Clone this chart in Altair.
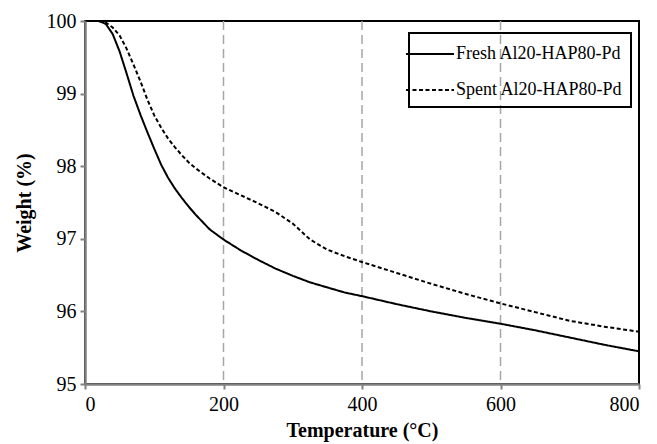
import altair as alt
import pandas as pd

temps = [20, 30, 40, 50, 60, 70, 80, 90, 100, 110, 120, 130, 140, 150, 160, 180,
         200, 225, 250, 275, 300, 325, 350, 375, 400, 450, 500, 550, 600, 650,
         700, 750, 800]
fresh = [100.0, 99.96, 99.82, 99.58, 99.28, 98.97, 98.71, 98.47, 98.24, 98.02,
         97.84, 97.69, 97.56, 97.44, 97.33, 97.13, 96.99, 96.84, 96.71, 96.59,
         96.49, 96.40, 96.33, 96.26, 96.21, 96.10, 96.00, 95.91, 95.83, 95.74,
         95.64, 95.54, 95.45]
spent = [100.0, 99.98, 99.91, 99.80, 99.62, 99.40, 99.17, 98.92, 98.70, 98.53,
         98.38, 98.26, 98.15, 98.05, 97.97, 97.83, 97.71, 97.60, 97.49, 97.37,
         97.21, 96.99, 96.85, 96.76, 96.68, 96.53, 96.38, 96.24, 96.11, 95.99,
         95.87, 95.79, 95.72]
series_names = ["Fresh Al20-HAP80-Pd", "Spent Al20-HAP80-Pd"]
grid_temps = [200, 400, 600]
x_ticks = [0, 200, 400, 600, 800]
y_ticks = [95, 96, 97, 98, 99, 100]

rows = []
for t, f, s in zip(temps, fresh, spent):
    rows.append({"T": t, "W": f, "series": series_names[0]})
    rows.append({"T": t, "W": s, "series": series_names[1]})
df = pd.DataFrame(rows)
grid_df = pd.DataFrame({"T": grid_temps})

font = "Liberation Serif"
xscale = alt.Scale(domain=[0, 800], nice=False, zero=False)
yscale = alt.Scale(domain=[95, 100], nice=False, zero=False)

grid = alt.Chart(grid_df).mark_rule(color="#a6a6a6", strokeWidth=1.5, strokeDash=[9, 5]).encode(
    x=alt.X("T:Q", scale=xscale)
)

lines = alt.Chart(df).mark_line(color="black", strokeWidth=2).encode(
    x=alt.X("T:Q", scale=xscale,
            axis=alt.Axis(title="Temperature (\u00b0C)", values=x_ticks, format="d")),
    y=alt.Y("W:Q", scale=yscale,
            axis=alt.Axis(title="Weight (%)", values=y_ticks, format="d")),
    strokeDash=alt.StrokeDash(
        "series:N",
        scale=alt.Scale(domain=series_names, range=[[1, 0], [4, 2.5]]),
        legend=alt.Legend(
            title=None, orient="none", legendX=324, legendY=12,
            strokeColor="black", padding=8,
            symbolType="M-2,0H2", symbolSize=576, symbolStrokeWidth=2,
            symbolStrokeColor="black", symbolFillColor="transparent",
            labelFont=font, labelFontSize=18,
            labelColor="black", rowPadding=14, labelLimit=400, labelOffset=13,
        ),
    ),
    detail="series:N",
)

chart = alt.layer(grid, lines).properties(
    width=554, height=363,
    autosize=alt.AutoSizeParams(type="none"),
    padding={"left": 85, "top": 21, "right": 18, "bottom": 60},
).configure_view(
    stroke="black", strokeWidth=2
).configure_legend(
    strokeWidth=2
).configure_axis(
    grid=False, domainColor="#808080", domainWidth=2.5, tickColor="#808080",
    tickWidth=2, tickSize=5, labelFont=font, labelFontSize=20, labelColor="black",
    titleFont=font, titleFontSize=20, titleFontWeight="bold", titleColor="black",
).configure_axisX(
    labelPadding=5, titlePadding=6
).configure_axisY(
    labelPadding=4, titlePadding=12
)

chart.save("out.html", embed_options={"renderer": "svg", "actions": False})
